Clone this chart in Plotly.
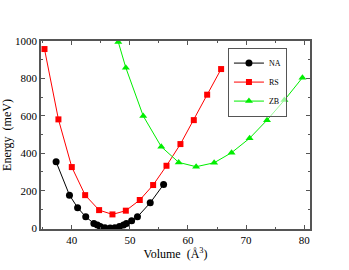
import plotly.graph_objects as go

na_vol = [37.3, 39.6, 41.0, 42.4, 43.8, 44.4, 44.9, 45.7, 46.6, 47.4, 48.2, 48.9, 49.4, 50.3, 51.3, 53.5, 55.8]
na_e = [354, 176, 109, 60, 25, 16, 8, 2, 0, 2, 8, 16, 25, 39, 60, 135, 233]

rs_vol = [35.3, 37.7, 40.0, 42.3, 44.7, 47.0, 49.3, 51.7, 54.0, 56.3, 58.7, 61.0, 63.3, 65.7]
rs_e = [957, 581, 326, 176, 96, 73, 93, 150, 230, 333, 449, 577, 713, 850]

zb_vol = [48.0, 49.3, 52.3, 55.4, 58.4, 61.4, 64.5, 67.5, 70.6, 73.6, 76.6, 79.7]
zb_e = [995, 857, 599, 435, 351, 328, 349, 403, 480, 577, 684, 804]

x_ticks = [40, 50, 60, 70, 80]
y_ticks = [0, 200, 400, 600, 800, 1000]

font = "Liberation Serif"

fig = go.Figure()
fig.add_trace(go.Scatter(x=na_vol, y=na_e, name="NA", mode="lines+markers",
                         line=dict(color="black", width=1),
                         marker=dict(symbol="circle", size=7, color="black")))
fig.add_trace(go.Scatter(x=rs_vol, y=rs_e, name="RS", mode="lines+markers",
                         line=dict(color="#ff0000", width=1),
                         marker=dict(symbol="square", size=6, color="#ff0000")))
fig.add_trace(go.Scatter(x=zb_vol, y=zb_e, name="ZB", mode="lines+markers",
                         line=dict(color="#00ee00", width=1),
                         marker=dict(symbol="triangle-up", size=7, color="#00ee00")))

axis_common = dict(showgrid=False, zeroline=False, showline=True, mirror="allticks",
                   linecolor="#555555", linewidth=1.5, ticks="inside", ticklen=4,
                   tickcolor="#555555", automargin=False,
                   tickfont=dict(family=font, size=11, color="black"))

fig.update_layout(
    width=349, height=270,
    margin=dict(l=41, r=39, t=41, b=41),
    paper_bgcolor="white", plot_bgcolor="white",
    font=dict(family=font, color="black"),
    showlegend=True,
    legend=dict(x=0.695, y=0.965, xanchor="left", yanchor="top",
                bgcolor="rgba(255,255,255,0.6)", bordercolor="#555555", borderwidth=1,
                font=dict(family=font, size=8), tracegroupgap=0, itemwidth=30),
    xaxis=dict(range=[34.7, 81], tickvals=x_ticks,
               minor=dict(tickvals=[35, 45, 55, 65, 75], ticks="inside", ticklen=2, tickcolor="#555555"),
               title=dict(text="Volume  (Å<sup>3</sup>)", font=dict(family=font, size=12), standoff=0),
               **axis_common),
    yaxis=dict(range=[-5, 1000], tickvals=y_ticks,
               minor=dict(tickvals=[100, 300, 500, 700, 900], ticks="inside", ticklen=2, tickcolor="#555555"),
               title=dict(text="Energy  (meV)", font=dict(family=font, size=12), standoff=10),
               **axis_common),
)

fig.write_html("out.html", config={"displayModeBar": False},
               post_script="document.body.style.margin='0';")
